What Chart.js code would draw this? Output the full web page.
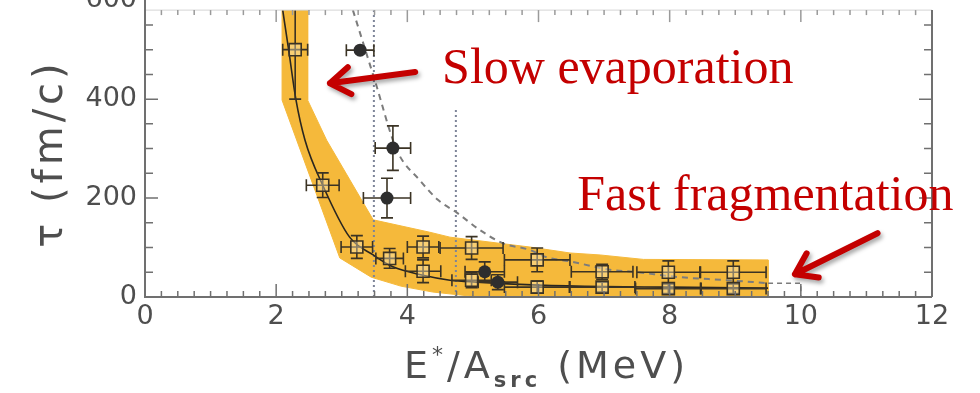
<!DOCTYPE html>
<html>
<head>
<meta charset="utf-8">
<script src="https://cdn.jsdelivr.net/npm/chart.js@4.4.1/dist/chart.umd.min.js"></script>
<style>
  html, body { margin: 0; padding: 0; background: #fff; }
  canvas { display: block; }
</style>
</head>
<body>
<canvas id="tauChart" width="980" height="393"></canvas>
<script>
// emission time of the source vs excitation energy per nucleon

// open squares (with x / y uncertainties)
const sqE    = [2.29, 2.71, 3.23, 3.73, 4.24, 4.24, 4.98, 4.98, 5.98, 5.98, 6.97, 6.97, 7.98, 7.98, 8.97, 8.97];
const sqTau  = [500, 226, 101, 78, 101, 52, 99, 34, 75, 20, 51, 20, 50, 17, 50, 17];
const sqErrE = [0.19, 0.25, 0.24, 0.21, 0.24, 0.27, 0.48, 0.3, 0.5, 0.5, 0.47, 0.5, 0.48, 0.5, 0.5, 0.5];
const sqErrT = [100, 25, 23, 20, 22, 23, 23, 15, 24, 12, 15, 10, 23, 10, 23, 10];

// filled circles
const dotE    = [3.28, 3.78, 3.69, 5.18, 5.38];
const dotTau  = [499, 301, 200, 51, 30];
const dotErrE = [0.21, 0.27, 0.36, 0.3, 0.3];
const dotErrT = [0, 45, 40, 20, 15];

// solid fit through the squares
const fitE   = [2.10, 2.19, 2.30, 2.44, 2.71, 3.12, 3.48, 3.78, 4.24, 4.65, 5.06, 6.0, 7.0, 8.0, 9.5];
const fitTau = [580, 500, 400, 317, 226, 121, 85, 61, 44, 34, 30, 24, 21, 20, 18];

// dashed curve and its end step
const dashE   = [3.17, 3.50, 3.84, 4.19, 4.47, 4.76, 5.10, 5.45, 5.87, 6.13, 6.48, 6.83, 7.09, 7.44, 8.16, 8.87, 9.5];
const dashTau = [580, 440, 297, 236, 196, 170, 136, 109, 95, 80, 72, 62, 55, 51, 40, 34, 28];
const stepE   = [9.5, 10.0, 10.0];
const stepTau = [28, 28, 0];

// shaded band: upper edge then lower edge
const bandTopE   = [2.48, 2.48, 2.77, 3.48, 4.34, 4.65, 5.87, 6.48, 6.94, 7.6, 9.5, 9.5];
const bandTopTau = [580, 398, 317, 156, 131, 121, 101, 89, 85, 76, 75, 0];
const bandLowE   = [2.09, 2.09, 2.97, 3.45, 3.9, 4.39, 4.95, 9.5];
const bandLowTau = [580, 398, 79, 40, 22, 10, 2, 0];

// dotted vertical markers: [energy, top]
const markers = [[3.49, 580], [4.74, 384]];

// axis ticks
const xTicks = [0, 2, 4, 6, 8, 10, 12];
const yTicks = [0, 200, 400, 600];

const notes = [
  { text: 'Slow evaporation', x: 4.53, y: 432 },
  { text: 'Fast fragmentation', x: 6.59, y: 176 }
];
const arrows = [
  { from: [4.12, 455], to: [2.82, 432] },
  { from: [11.17, 129], to: [9.91, 46] }
];

const pts = (xs, ys) => xs.map((x, i) => ({ x: x, y: ys[i] }));

const bandPolygon = pts(bandTopE, bandTopTau)
  .concat(pts(bandLowE, bandLowTau).reverse());

const TEXT = '#4e4e4e';
const TICK_FONT = '27px "DejaVu Sans"';

const errorBars = {
  id: 'errorBars',
  beforeDatasetDraw(chart, args) {
    const ds = chart.data.datasets[args.index];
    if (!ds.errX) return;
    const { ctx, scales: { x, y } } = chart;
    const a = chart.chartArea;
    ctx.save();
    ctx.beginPath();
    ctx.rect(a.left, a.top, a.right - a.left, a.bottom - a.top);
    ctx.clip();
    ctx.strokeStyle = '#3b3324';
    ctx.lineWidth = 1.6;
    const cap = 6;
    ds.data.forEach((p, i) => {
      const px = x.getPixelForValue(p.x), py = y.getPixelForValue(p.y);
      const x0 = x.getPixelForValue(p.x - ds.errX[i]), x1 = x.getPixelForValue(p.x + ds.errX[i]);
      ctx.beginPath();
      ctx.moveTo(x0, py); ctx.lineTo(x1, py);
      ctx.moveTo(x0, py - cap); ctx.lineTo(x0, py + cap);
      ctx.moveTo(x1, py - cap); ctx.lineTo(x1, py + cap);
      if (ds.errY[i] > 0) {
        const y0 = y.getPixelForValue(p.y - ds.errY[i]), y1 = y.getPixelForValue(p.y + ds.errY[i]);
        ctx.moveTo(px, y0); ctx.lineTo(px, y1);
        ctx.moveTo(px - cap, y0); ctx.lineTo(px + cap, y0);
        ctx.moveTo(px - cap, y1); ctx.lineTo(px + cap, y1);
      }
      ctx.stroke();
    });
    ctx.restore();
  }
};

function drawArrow(ctx, x0, y0, x1, y1) {
  const ang = Math.atan2(y1 - y0, x1 - x0);
  const head = 24;
  ctx.beginPath();
  ctx.moveTo(x0, y0);
  ctx.lineTo(x1, y1);
  ctx.moveTo(x1 - head * Math.cos(ang - 0.6), y1 - head * Math.sin(ang - 0.6));
  ctx.lineTo(x1, y1);
  ctx.lineTo(x1 - head * Math.cos(ang + 0.6), y1 - head * Math.sin(ang + 0.6));
  ctx.stroke();
}

const frame = {
  id: 'frame',
  afterDraw(chart) {
    const { ctx, chartArea: a, scales: { x, y } } = chart;
    ctx.save();

    // top edge: faint
    ctx.strokeStyle = '#d4d4d4';
    ctx.lineWidth = 1;
    ctx.beginPath();
    ctx.moveTo(a.left, a.top); ctx.lineTo(a.right, a.top);
    ctx.stroke();

    ctx.strokeStyle = '#707070';
    ctx.lineWidth = 2;
    ctx.beginPath();
    ctx.moveTo(a.left, 0); ctx.lineTo(a.left, a.bottom); ctx.lineTo(a.right, a.bottom);
    ctx.moveTo(a.right, a.bottom); ctx.lineTo(a.right, a.top);
    ctx.stroke();

    // inward ticks
    ctx.lineWidth = 1.5;
    for (let v = 0.25; v < 12; v += 0.25) {
      const px = x.getPixelForValue(v);
      const len = Math.abs(v % 2) < 1e-6 ? 13 : 6;
      ctx.strokeStyle = '#707070';
      ctx.beginPath();
      ctx.moveTo(px, a.bottom); ctx.lineTo(px, a.bottom - len);
      ctx.stroke();
      ctx.strokeStyle = '#9a9a9a';
      ctx.beginPath();
      ctx.moveTo(px, a.top); ctx.lineTo(px, a.top + len - 1);
      ctx.stroke();
    }
    ctx.strokeStyle = '#707070';
    for (let v = 50; v < 580; v += 50) {
      const py = y.getPixelForValue(v);
      const len = v % 200 === 0 ? 13 : 8;
      ctx.beginPath();
      ctx.moveTo(a.left, py); ctx.lineTo(a.left + len, py);
      ctx.moveTo(a.right, py); ctx.lineTo(a.right - len, py);
      ctx.stroke();
    }

    // top tick label sits above the frame
    ctx.fillStyle = TEXT;
    ctx.font = TICK_FONT;
    ctx.textAlign = 'right';
    ctx.textBaseline = 'middle';
    yTicks.filter(v => v > 580).forEach(v => {
      ctx.fillText(String(v), a.left - 8, y.getPixelForValue(v));
    });

    // x title with superscript and subscript
    const parts = [
      ['E', '38px "DejaVu Sans"', 0],
      ['*', '22px "DejaVu Sans"', -16],
      ['/A', '38px "DejaVu Sans"', 0],
      ['src', 'bold 21px "DejaVu Sans"', 9],
      [' (MeV)', '38px "DejaVu Sans"', 0]
    ];
    ctx.textAlign = 'left';
    ctx.textBaseline = 'alphabetic';
    ctx.letterSpacing = '4px';
    let total = 0;
    parts.forEach(p => { ctx.font = p[1]; total += ctx.measureText(p[0]).width; });
    let tx = (a.left + a.right) / 2 + 8 - total / 2;
    const base = 378;
    parts.forEach(p => {
      ctx.font = p[1];
      ctx.fillText(p[0], tx, base + p[2]);
      tx += ctx.measureText(p[0]).width;
    });

    // y title
    ctx.save();
    ctx.translate(62, (a.top + a.bottom) / 2);
    ctx.rotate(-Math.PI / 2);
    ctx.textAlign = 'center';
    ctx.font = '40px "DejaVu Sans"';
    ctx.letterSpacing = '4px';
    ctx.fillText('\u03c4 (fm/c)', 0, 0);
    ctx.restore();
    ctx.letterSpacing = '0px';

    // red annotations
    ctx.fillStyle = '#c40000';
    ctx.font = '50px "Liberation Serif"';
    notes.forEach(n => ctx.fillText(n.text, x.getPixelForValue(n.x), y.getPixelForValue(n.y)));

    ctx.strokeStyle = '#c40000';
    ctx.lineWidth = 6;
    ctx.lineCap = 'round';
    ctx.lineJoin = 'round';
    ctx.shadowColor = 'rgba(0,0,0,0.35)';
    ctx.shadowBlur = 4;
    ctx.shadowOffsetX = 2;
    ctx.shadowOffsetY = 3;
    arrows.forEach(ar => drawArrow(ctx,
      x.getPixelForValue(ar.from[0]), y.getPixelForValue(ar.from[1]),
      x.getPixelForValue(ar.to[0]), y.getPixelForValue(ar.to[1])));
    ctx.restore();
  }
};

const markerSets = markers.map(m => ({
  data: [{ x: m[0], y: 0 }, { x: m[0], y: m[1] }],
  showLine: true,
  borderColor: '#7d8498',
  borderWidth: 2,
  borderDash: [2, 3],
  pointRadius: 0,
  order: 8
}));

// keep the plot box fixed: no extra room for edge labels
const noPad = s => { s.paddingTop = 0; s.paddingBottom = 0; s.paddingLeft = 0; s.paddingRight = 0; };

new Chart(document.getElementById('tauChart'), {
  type: 'scatter',
  data: {
    datasets: [
      {
        label: 'squares',
        data: pts(sqE, sqTau),
        errX: sqErrE,
        errY: sqErrT,
        pointStyle: 'rect',
        pointRadius: 8.5,
        borderColor: '#3b3324',
        borderWidth: 1.6,
        backgroundColor: 'rgba(255,240,200,0.4)',
        order: 2
      },
      {
        label: 'circles',
        data: pts(dotE, dotTau),
        errX: dotErrE,
        errY: dotErrT,
        pointRadius: 6.5,
        borderWidth: 0,
        backgroundColor: '#2e2e2e',
        order: 1
      },
      {
        label: 'fit',
        data: pts(fitE, fitTau),
        showLine: true,
        cubicInterpolationMode: 'monotone',
        borderColor: '#2a2620',
        borderWidth: 1.6,
        pointRadius: 0,
        order: 6
      },
      {
        label: 'dashed',
        data: pts(dashE, dashTau),
        showLine: true,
        cubicInterpolationMode: 'monotone',
        borderColor: '#7c7c7c',
        borderWidth: 2,
        borderDash: [6, 5],
        pointRadius: 0,
        order: 7
      },
      {
        label: 'step',
        data: pts(stepE, stepTau),
        showLine: true,
        borderColor: '#7c7c7c',
        borderWidth: 1.5,
        borderDash: [5, 4],
        pointRadius: 0,
        order: 7
      },
      ...markerSets,
      {
        label: 'band',
        data: bandPolygon,
        showLine: true,
        fill: 'shape',
        backgroundColor: '#f5b93b',
        borderColor: '#f5b93b',
        borderWidth: 1,
        pointRadius: 0,
        order: 10
      }
    ]
  },
  options: {
    responsive: false,
    animation: false,
    layout: { padding: { top: 10, right: 48, left: 0, bottom: 0 } },
    plugins: { legend: { display: false }, tooltip: { enabled: false } },
    scales: {
      x: {
        type: 'linear',
        min: 0,
        max: 12,
        afterBuildTicks: s => { s.ticks = xTicks.map(v => ({ value: v })); },
        afterFit: s => { s.height = 96; noPad(s); },
        grid: { display: false, drawTicks: false },
        border: { display: false },
        ticks: { font: { family: 'DejaVu Sans', size: 27 }, color: TEXT, padding: 4, maxRotation: 0 }
      },
      y: {
        type: 'linear',
        min: 0,
        max: 580,
        afterBuildTicks: s => { s.ticks = yTicks.filter(v => v <= 580).map(v => ({ value: v })); },
        afterFit: s => { s.width = 145; noPad(s); },
        grid: { display: false, drawTicks: false },
        border: { display: false },
        ticks: { font: { family: 'DejaVu Sans', size: 27 }, color: TEXT, padding: 8 }
      }
    }
  },
  plugins: [errorBars, frame]
});
</script>
</body>
</html>
